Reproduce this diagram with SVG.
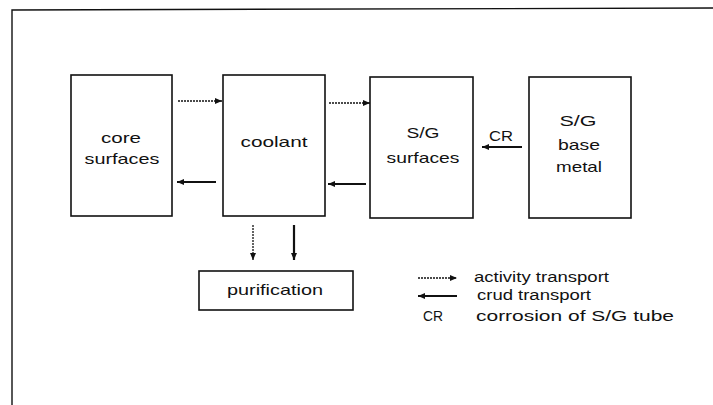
<svg xmlns="http://www.w3.org/2000/svg" width="713" height="405" viewBox="0 0 713 405">
<style>
.box{fill:none;stroke:#111;stroke-width:1.6}
.frame{fill:none;stroke:#111;stroke-width:1.4}
.t{font-family:"Liberation Sans",Arial,sans-serif;font-size:15px;fill:#111}
.tl{font-family:"Liberation Sans",Arial,sans-serif;font-size:14px;fill:#111}
.act{stroke:#111;stroke-width:1.3;stroke-dasharray:2 1;fill:none}
.crud{stroke:#111;stroke-width:2.2;fill:none}
</style>
<defs>
<marker id="ah" markerUnits="userSpaceOnUse" markerWidth="8" markerHeight="7" refX="7" refY="3.5" orient="auto">
<path d="M0,0.5 L7,3.5 L0,6.5 Z" fill="#111"/>
</marker>
</defs>
<path class="frame" d="M12,405 L12,10 L713,8"/>
<g id="core">
<rect class="box" x="71" y="75" width="101" height="141"/>
<text class="t" x="121" y="143" text-anchor="middle" textLength="40" lengthAdjust="spacingAndGlyphs">core</text>
<text class="t" x="122" y="164" text-anchor="middle" textLength="75" lengthAdjust="spacingAndGlyphs">surfaces</text>
</g>
<g id="coolant">
<rect class="box" x="223" y="75" width="102" height="141"/>
<text class="t" x="274" y="147" text-anchor="middle" textLength="67" lengthAdjust="spacingAndGlyphs">coolant</text>
</g>
<g id="sg-surfaces">
<rect class="box" x="370" y="77" width="103" height="141"/>
<text class="t" x="423" y="138" text-anchor="middle" textLength="33" lengthAdjust="spacingAndGlyphs">S/G</text>
<text class="t" x="423" y="163" text-anchor="middle" textLength="73" lengthAdjust="spacingAndGlyphs">surfaces</text>
</g>
<g id="sg-base">
<rect class="box" x="529" y="77" width="102" height="141"/>
<text class="t" x="578" y="126" text-anchor="middle" textLength="37" lengthAdjust="spacingAndGlyphs">S/G</text>
<text class="t" x="579" y="150" text-anchor="middle" textLength="42" lengthAdjust="spacingAndGlyphs">base</text>
<text class="t" x="579" y="172" text-anchor="middle" textLength="46" lengthAdjust="spacingAndGlyphs">metal</text>
</g>
<g id="purification">
<rect class="box" x="199" y="271" width="154" height="39"/>
<text class="t" x="275" y="295" text-anchor="middle" textLength="96" lengthAdjust="spacingAndGlyphs">purification</text>
</g>
<g id="connectors">
<line class="act" x1="178" y1="101" x2="222" y2="101" marker-end="url(#ah)"/>
<line class="act" x1="329" y1="103" x2="370" y2="103" marker-end="url(#ah)"/>
<line class="crud" x1="216" y1="182" x2="177" y2="182" marker-end="url(#ah)"/>
<line class="crud" x1="366" y1="184" x2="328" y2="184" marker-end="url(#ah)"/>
<line class="crud" x1="522" y1="147" x2="482" y2="147" marker-end="url(#ah)"/>
<text class="t" x="501" y="141" text-anchor="middle" textLength="24" lengthAdjust="spacingAndGlyphs">CR</text>
<line class="act" x1="253" y1="225" x2="253" y2="260" marker-end="url(#ah)"/>
<line class="crud" x1="294" y1="225" x2="294" y2="260" marker-end="url(#ah)"/>
</g>
<g id="legend">
<line class="act" x1="418" y1="278" x2="457" y2="278" marker-end="url(#ah)"/>
<line class="crud" x1="457" y1="296" x2="418" y2="296" marker-end="url(#ah)"/>
<text class="tl" x="474" y="282" textLength="135" lengthAdjust="spacingAndGlyphs">activity transport</text>
<text class="tl" x="477" y="300" textLength="114" lengthAdjust="spacingAndGlyphs">crud transport</text>
<text class="t" x="423" y="321" textLength="20" lengthAdjust="spacingAndGlyphs">CR</text>
<text class="tl" x="476" y="321" textLength="198" lengthAdjust="spacingAndGlyphs">corrosion of S/G tube</text>
</g>
</svg>
